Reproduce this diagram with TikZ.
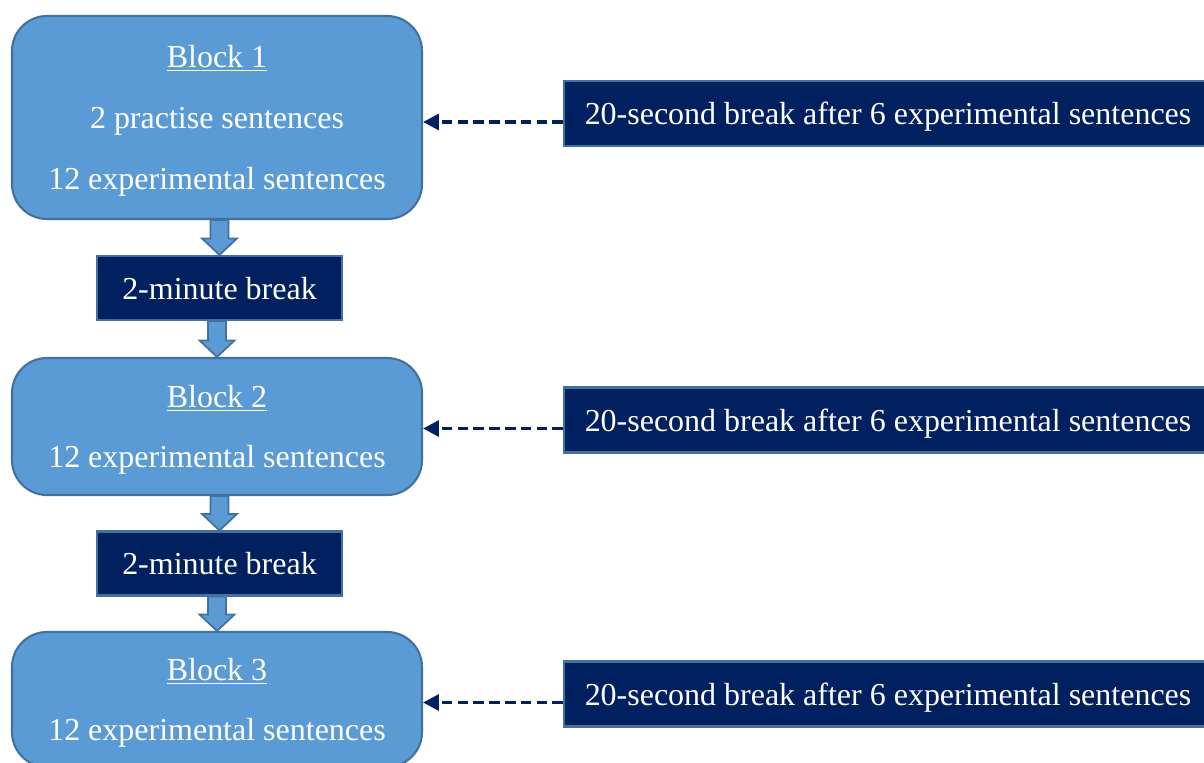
\documentclass[tikz,border=0pt]{standalone}
\usepackage{fontspec}
\setmainfont{Liberation Serif}
\usetikzlibrary{arrows.meta,calc}

\definecolor{blockblue}{HTML}{5B9BD5}
\definecolor{blockedge}{HTML}{41719C}
\definecolor{navy}{HTML}{002060}

\tikzset{
  block/.style={draw=blockedge, line width=1.2pt, fill=blockblue, rounded corners=0.7cm,
    minimum width=8.2cm, inner sep=0pt, text=white, align=center, text depth=0pt,
    font=\fontsize{18.2}{34.5}\selectfont},
  pause/.style={draw=blockedge, line width=1.2pt, fill=navy, minimum width=4.9cm,
    minimum height=1.28cm, inner sep=0pt, text=white, text depth=0pt,
    font=\fontsize{18.2}{22}\selectfont},
  shortpause/.style={pause, minimum width=12.96cm, minimum height=1.3cm},
  flow/.style={draw=blockedge, line width=1pt, fill=blockblue},
  hint/.style={navy, line width=2pt, dash pattern=on 6pt off 3pt,
    -{Triangle[length=9pt,width=9pt]}}
}

% block arrow from the bottom of one box to the top of the next
\newcommand{\flowarrow}[2]{%
  \draw[flow] ($(#2.north |- #1.south)+(-0.18,0)$) -- ($(#2.north)+(-0.18,0.33)$)
    -- ($(#2.north)+(-0.35,0.33)$) -- (#2.north) -- ($(#2.north)+(0.35,0.33)$)
    -- ($(#2.north)+(0.18,0.33)$) -- ($(#2.north |- #1.south)+(0.18,0)$) -- cycle;
}

\begin{document}
\begin{tikzpicture}
\useasboundingbox (0,0) rectangle (24.08,-15.24);
\clip (0,0) rectangle (24.08,-15.24);

% Blocks on the left
\node[block, minimum height=4.06cm] (b1) at (4.34,-2.35)
  {\underline{Block 1}\\2 practise sentences\\12 experimental sentences};
\node[pause] (k1) at (4.39,-5.76) {2-minute break};
\node[block, minimum height=2.74cm] (b2) at (4.34,-8.53)
  {\underline{Block 2}\\12 experimental sentences};
\node[pause] (k2) at (4.39,-11.27) {2-minute break};
\node[block, minimum height=2.7cm] (b3) at (4.34,-13.99)
  {\underline{Block 3}\\12 experimental sentences};

% Short breaks on the right
\node[shortpause] (r1) at (17.76,-2.27) {20-second break after 6 experimental sentences};
\node[shortpause] (r2) at (17.76,-8.40) {20-second break after 6 experimental sentences};
\node[shortpause] (r3) at (17.76,-13.88) {20-second break after 6 experimental sentences};

% Block arrows
\flowarrow{b1}{k1}
\flowarrow{k1}{b2}
\flowarrow{b2}{k2}
\flowarrow{k2}{b3}

% Dashed arrows into the blocks
\foreach \r/\b in {r1/b1, r2/b2, r3/b3}
  \draw[hint] ([yshift=-0.17cm]\r.west) -- ([yshift=-0.17cm]\r.west -| \b.east);

\end{tikzpicture}
\end{document}
